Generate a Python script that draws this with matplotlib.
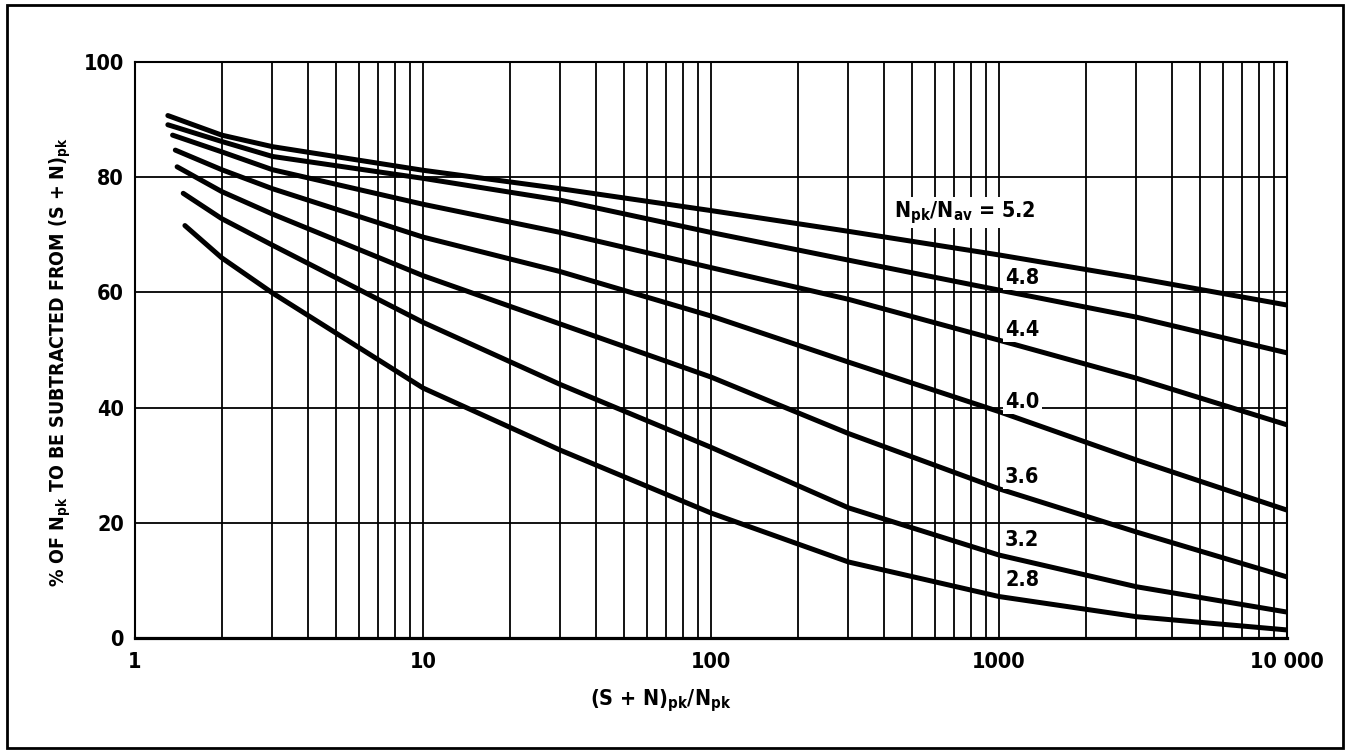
import numpy as np
import matplotlib
matplotlib.use('Agg')
import matplotlib.pyplot as plt
from matplotlib.patches import Rectangle
from matplotlib.ticker import LogLocator, NullFormatter

plt.rcParams['font.family'] = ['DejaVu Sans']
plt.rcParams['font.stretch'] = 'condensed'
plt.rcParams['font.weight'] = 'bold'
plt.rcParams['axes.labelweight'] = 'bold'
plt.rcParams['mathtext.default'] = 'regular'

# ratio Npk/Nav for each curve
ratios = ['5.2', '4.8', '4.4', '4.0', '3.6', '3.2', '2.8']

# where each curve begins (left end)
x_start = [1.30, 1.30, 1.35, 1.38, 1.40, 1.47, 1.49]
y_start = [90.7, 89.1, 87.3, 84.7, 81.8, 77.2, 71.6]

# readings at common (S+N)pk/Npk values
x_pts = [2, 3, 10, 30, 100, 300, 1000, 3000, 10000]
pct_52 = [87.3, 85.3, 81.2, 78.0, 74.2, 70.6, 66.5, 62.5, 57.8]
pct_48 = [86.2, 83.6, 79.8, 76.0, 70.4, 65.6, 60.4, 55.7, 49.5]
pct_44 = [84.4, 81.3, 75.3, 70.4, 64.3, 58.8, 51.7, 45.1, 37.0]
pct_40 = [81.3, 78.0, 69.6, 63.6, 55.9, 47.9, 39.3, 30.9, 22.2]
pct_36 = [77.5, 73.6, 62.9, 54.5, 45.3, 35.5, 25.9, 18.4, 10.6]
pct_32 = [72.8, 68.2, 54.8, 44.0, 33.1, 22.6, 14.4, 8.9, 4.5]
pct_28 = [66.0, 59.9, 43.4, 32.6, 21.7, 13.2, 7.2, 3.7, 1.4]
curves = [pct_52, pct_48, pct_44, pct_40, pct_36, pct_32, pct_28]

x_ticks = [1, 10, 100, 1000, 10000]
x_ticklabels = ['1', '10', '100', '1000', '10 000']
y_ticks = [0, 20, 40, 60, 80, 100]

# label anchors (left edge, vertical centre)
lab_x = [430, 1050, 1050, 1050, 1050, 1050, 1050]
lab_y = [73.8, 62.5, 53.5, 41.0, 28.0, 17.0, 10.1]

fs = 15.5

fig = plt.figure(figsize=(13.49, 7.53), dpi=100)
ax = fig.add_axes([0.1001, 0.1527, 0.854, 0.765])
ax.set_xscale('log')
ax.set_xlim(1, 10000)
ax.set_ylim(0, 100)

ax.set_xticks(x_ticks)
ax.set_xticklabels(x_ticklabels)
ax.xaxis.set_minor_locator(LogLocator(base=10, subs=np.arange(2, 10)))
ax.xaxis.set_minor_formatter(NullFormatter())
ax.set_yticks(y_ticks)
ax.tick_params(which='both', length=0, labelsize=fs)
ax.tick_params(axis='x', pad=10)
ax.tick_params(axis='y', pad=8)

ax.grid(which='both', axis='x', color='black', lw=1.3)
ax.grid(which='major', axis='y', color='black', lw=1.3)
ax.set_axisbelow(True)
for s in ax.spines.values():
    s.set_linewidth(1.5)
ax.spines['bottom'].set_linewidth(2.3)

for i in range(len(curves)):
    xs = [x_start[i]] + x_pts
    ys = [y_start[i]] + curves[i]
    ax.plot(xs, ys, color='black', lw=3.6, solid_capstyle='round',
            solid_joinstyle='round', zorder=3)
    if i == 0:
        txt = 'N$_{pk}$/N$_{av}$ = ' + ratios[i]
    else:
        txt = ratios[i]
    ax.text(lab_x[i], lab_y[i], txt, fontsize=fs, ha='left', va='center', zorder=4,
            bbox=dict(facecolor='white', edgecolor='none', pad=1.5))

ax.set_xlabel('(S + N)$_{pk}$/N$_{pk}$', fontsize=fs)
ax.xaxis.set_label_coords(0.456, -0.085)
ax.set_ylabel('% OF N$_{pk}$ TO BE SUBTRACTED FROM (S + N)$_{pk}$', fontsize=14)
ax.yaxis.set_label_coords(-0.054, 0.48)

fig.add_artist(Rectangle((0.0052, 0.0066), 0.9904, 0.9868, transform=fig.transFigure,
                         fill=False, ec='black', lw=2))

plt.savefig('out.png', dpi=100)
